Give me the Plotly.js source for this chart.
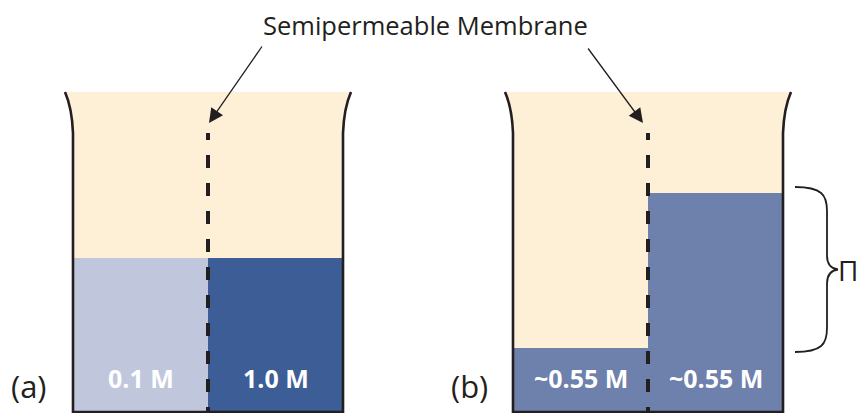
<!DOCTYPE html>
<html>
<head>
<meta charset="utf-8">
<script src="https://cdn.plot.ly/plotly-3.0.1.min.js"></script>
<style>html,body{margin:0;padding:0;background:#fff;}#chart{width:861px;height:413px;}</style>
</head>
<body>
<div id="chart"></div>
<script>
// ---- data (fluid heights above the beaker bottom, in drawing units) ----
const panelLabels = ['(a)', '(b)'];
const leftLevel = [155, 65];
const rightLevel = [155, 220];
const leftConc = ['0.1 M', '~0.55 M'];
const rightConc = ['1.0 M', '~0.55 M'];
const membraneLabel = 'Semipermeable Membrane';
const pressureSymbol = '\u03A0';

// ---- geometry & style ----
const W = 861, H = 413;
const beakerLeft = [73, 513];
const beakerWidth = 270;
const membraneX = [208, 648];
const beakerTop = 321;
const wallBend = 280;
const ink = '#231f20';
const cream = '#fdf0d6';
const leftColors = ['#c0c7dd', '#6e80ac'];
const rightColors = ['#3d5d97', '#6e80ac'];
const fontFam = '"Open Sans", "DejaVu Sans", sans-serif';

const traces = [];
const shapes = [];
const annotations = [];

for (let i = 0; i < panelLabels.length; i++) {
  const L = beakerLeft[i], R = L + beakerWidth, M = membraneX[i];
  // cream background inside the beaker
  shapes.push({type: 'path', xref: 'x', yref: 'y', layer: 'below',
    path: `M ${L-8} ${beakerTop} Q ${L-1} ${beakerTop-16} ${L} ${wallBend} L ${L} 0 L ${R} 0 L ${R} ${wallBend} Q ${R+1} ${beakerTop-16} ${R+8} ${beakerTop} Z`,
    fillcolor: cream, line: {width: 0}});
  // fluid columns
  traces.push({type: 'bar', x: [(L + M) / 2], y: [leftLevel[i]], width: [M - L], base: 0,
    marker: {color: leftColors[i], line: {width: 0}}, hoverinfo: 'skip', showlegend: false});
  traces.push({type: 'bar', x: [(M + R) / 2], y: [rightLevel[i]], width: [R - M], base: 0,
    marker: {color: rightColors[i], line: {width: 0}}, hoverinfo: 'skip', showlegend: false});
  // walls
  shapes.push({type: 'path', xref: 'x', yref: 'y', layer: 'above',
    path: `M ${L-8} ${beakerTop} Q ${L-1} ${beakerTop-16} ${L} ${wallBend} L ${L} 1 L ${R} 1 L ${R} ${wallBend} Q ${R+1} ${beakerTop-16} ${R+8} ${beakerTop}`,
    line: {color: ink, width: 2.6}});
  // membrane
  shapes.push({type: 'line', xref: 'x', yref: 'y', layer: 'above',
    x0: M, x1: M, y0: 280, y1: 0,
    line: {color: ink, width: 4, dash: '7px,15px,' + Array(12).fill('13px,15px').join(',')}});
  // labels
  annotations.push({x: L - 44, y: 27, xref: 'x', yref: 'y', text: panelLabels[i], showarrow: false,
    font: {family: fontFam, size: 31, color: ink}});
  annotations.push({x: (L + M) / 2, y: 35, xref: 'x', yref: 'y', text: '<b>' + leftConc[i] + '</b>', showarrow: false,
    font: {family: fontFam, size: 25, color: '#ffffff'}});
  annotations.push({x: (M + R) / 2, y: 35, xref: 'x', yref: 'y', text: '<b>' + rightConc[i] + '</b>', showarrow: false,
    font: {family: fontFam, size: 25, color: '#ffffff'}});
}

// brace for the height difference in (b)
const bT = rightLevel[1] + 6, bB = leftLevel[1] - 4, bM = (bT + bB) / 2;
shapes.push({type: 'path', xref: 'x', yref: 'y', layer: 'above',
  path: `M 795 ${bT} C 822 ${bT} 827 ${bT-8} 827 ${bT-24} L 827 ${bM+14} C 827 ${bM+6} 830 ${bM+1} 838 ${bM} C 830 ${bM-1} 827 ${bM-6} 827 ${bM-14} L 827 ${bB+24} C 827 ${bB+8} 822 ${bB} 795 ${bB}`,
  line: {color: ink, width: 1.8}});
annotations.push({x: 860, y: bM, xref: 'x', yref: 'y', xanchor: 'right', text: pressureSymbol, showarrow: false,
  font: {family: fontFam, size: 28, color: ink}});

// title and arrows
annotations.push({x: 425, y: H - 25, xref: 'x', yref: 'y', text: membraneLabel, showarrow: false,
  font: {family: fontFam, size: 25.5, color: ink}});
annotations.push({x: membraneX[0] + 1, y: 290, ax: 263, ay: 368, xref: 'x', yref: 'y', axref: 'x', ayref: 'y',
  text: '', showarrow: true, arrowhead: 2, arrowsize: 2.2, arrowwidth: 1.3, arrowcolor: ink});
annotations.push({x: membraneX[1] - 5, y: 290, ax: 587, ay: 366, xref: 'x', yref: 'y', axref: 'x', ayref: 'y',
  text: '', showarrow: true, arrowhead: 2, arrowsize: 2.2, arrowwidth: 1.3, arrowcolor: ink});

const layout = {
  width: W, height: H,
  margin: {l: 0, r: 0, t: 0, b: 0, pad: 0},
  paper_bgcolor: '#ffffff', plot_bgcolor: '#ffffff',
  xaxis: {range: [0, W], visible: false, fixedrange: true, showgrid: false, zeroline: false},
  yaxis: {range: [0, H], visible: false, fixedrange: true, showgrid: false, zeroline: false},
  barmode: 'overlay', showlegend: false,
  shapes: shapes, annotations: annotations
};
Plotly.newPlot('chart', traces, layout, {staticPlot: true, displayModeBar: false});
</script>
</body>
</html>
